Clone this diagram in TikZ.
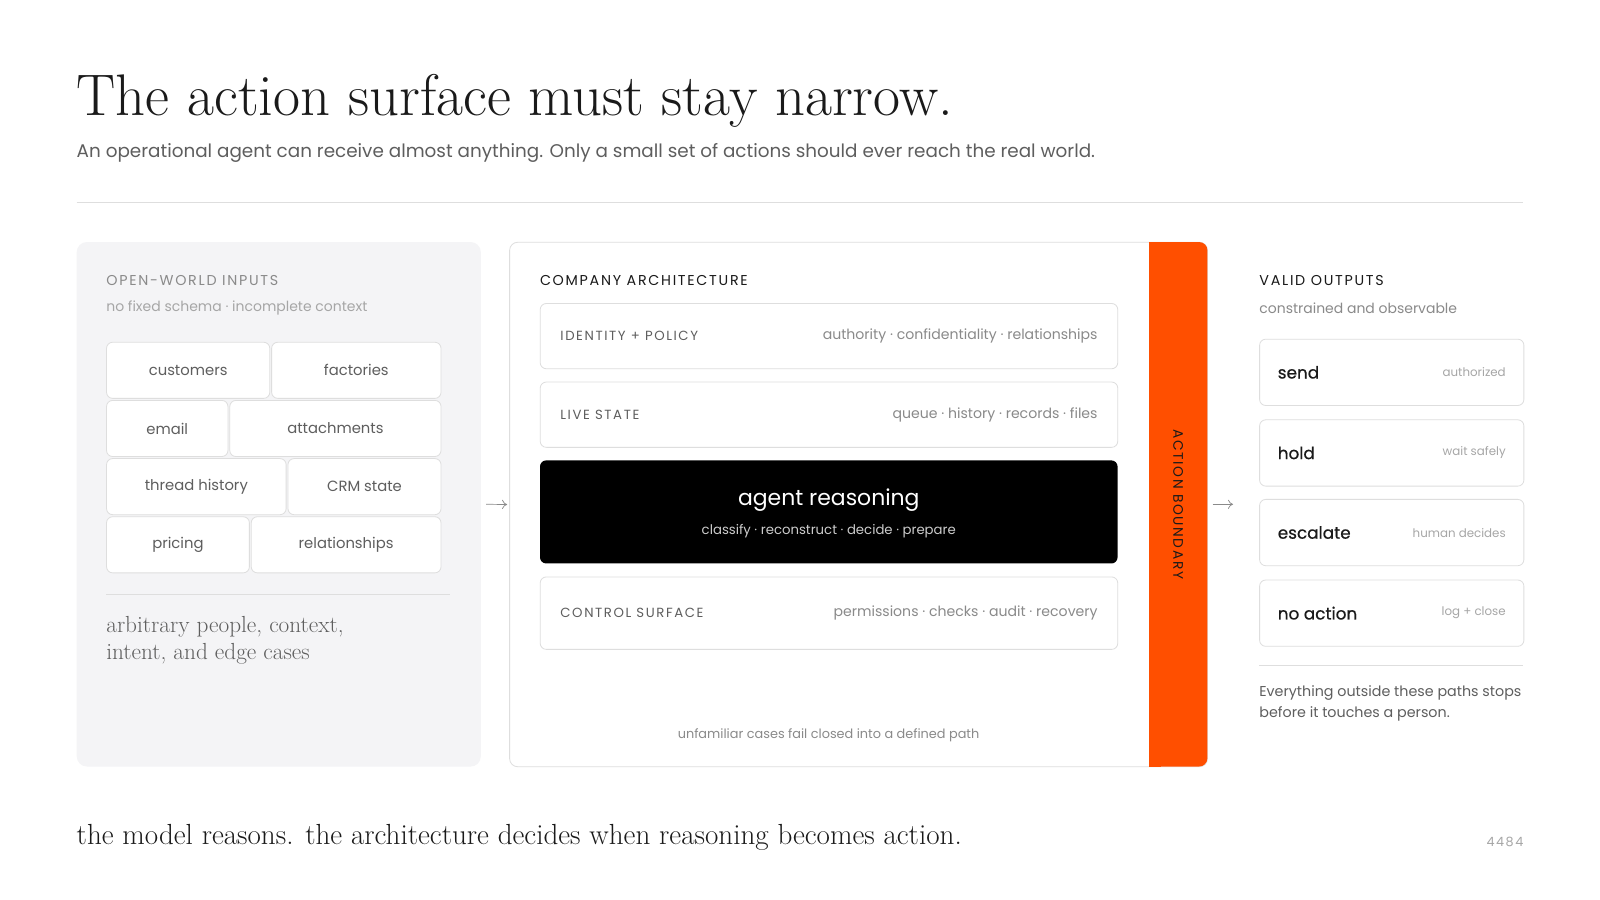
\documentclass[tikz,border=0pt]{standalone}
\usepackage{fontspec}
\newfontfamily\ui{Poppins}
\newfontfamily\uimed[FakeBold=0.6]{Poppins}
\usepackage{tikz}
\usetikzlibrary{positioning,arrows.meta}
\definecolor{ink}{HTML}{1A1A1A}
\definecolor{muted}{HTML}{5E5E5E}
\definecolor{soft}{HTML}{8A8A8A}
\definecolor{faint}{HTML}{A6A6A6}
\definecolor{rule}{HTML}{DEDEDE}
\definecolor{panel}{HTML}{F4F4F6}
\definecolor{bnd}{HTML}{FF4F00}
\newcommand{\UiSize}[2]{\ui\fontsize{#1}{#2}\selectfont}
\newcommand{\Spaced}{\addfontfeature{LetterSpace=12}}

\begin{document}
\begin{tikzpicture}[x=1pt,y=-1pt,>={To[length=5pt,width=9pt]}
        ,every node/.style={inner sep=0pt}
        ,caps/.style = {font=\UiSize{14}{16}\Spaced, anchor=west}
        ,lcaps/.style = {font=\UiSize{13}{15}\Spaced, anchor=west, text=muted}
        ,note/.style = {font=\UiSize{13.7}{16}, text=faint, anchor=west}
        ,chip/.style = {draw=rule, line width=0.8pt, fill=white, rounded corners=6pt, anchor=north west
                        ,minimum height=55pt, font=\UiSize{14.5}{17}, text=muted}
        ,layer/.style = {draw=rule, line width=0.8pt, fill=white, rounded corners=6pt, anchor=north west
                        ,minimum width=566pt, minimum height=64pt}
        ,outbox/.style = {draw=rule, line width=0.8pt, fill=white, rounded corners=6pt, anchor=north west
                        ,minimum width=259pt, minimum height=65pt}
        ,tag/.style = {font=\UiSize{13.8}{16}, text=soft, anchor=east}
        ,arr/.style = {->, draw=soft, line width=0.7pt}
      ]
      \useasboundingbox[fill=white] (0,0) rectangle (1568,882);

      \node[anchor=base west, font=\fontsize{57.5}{62}\selectfont, text=ink] (title) at (75,113) {The action surface must stay narrow.};
      \node[anchor=west, font=\UiSize{18}{21}, text=muted] (sub) at (75,150) {An operational agent can receive almost anything. Only a small set of actions should ever reach the real world.};
      \draw[rule, line width=0.8pt] (75,198) -- (1493,198);

      \node[fill=panel, rounded corners=10pt, anchor=north west, minimum width=396pt, minimum height=514pt] (inp) at (75,237) {};
      \node[caps, text=soft] (inhead) at (104,275) {OPEN-WORLD INPUTS};
      \node[note] (insub) at (104,302) {no fixed schema · incomplete context};

      \node[chip, minimum width=160pt] (cust) at (104,335) {customers};
      \node[chip, minimum width=166pt, right=1pt of cust] (fact) {factories};
      \node[chip, minimum width=119pt] (mail) at (104,392) {email};
      \node[chip, minimum width=207pt, right=1pt of mail] (att) {attachments};
      \node[chip, minimum width=176pt] (thr) at (104,449) {thread history};
      \node[chip, minimum width=150pt, right=1pt of thr] (crm) {CRM state};
      \node[chip, minimum width=140pt] (price) at (104,506) {pricing};
      \node[chip, minimum width=186pt, right=1pt of price] (rel) {relationships};

      \draw[rule, line width=0.8pt] (104,583) -- (441,583);
      \node[anchor=north west, align=left, font=\fontsize{22.8}{26}\selectfont, text=muted] (edge) at (104,604) {arbitrary people, context,\\intent, and edge cases};

      \node[draw=rule, line width=0.8pt, fill=white, rounded corners=8pt, anchor=north west, minimum width=684pt, minimum height=514pt] (arch) at (499,237) {};
      \node[fill=bnd, rounded corners=8pt, anchor=north west, minimum width=57pt, minimum height=514pt] (bound) at (1126,237) {};
      \fill[bnd] (bound.north west) rectangle ([xshift=12pt]bound.south west);
      \node[rotate=-90, font=\UiSize{13.5}{16}\Spaced, text=ink] (bndlbl) at (bound.center) {ACTION BOUNDARY};

      \node[caps, text=ink] (archhead) at (529,275) {COMPANY ARCHITECTURE};

      \node[layer] (idp) at (529,297) {};
      \node[lcaps] at ([xshift=20pt]idp.west) {IDENTITY + POLICY};
      \node[tag] at ([xshift=-20pt]idp.east) {authority · confidentiality · relationships};

      \node[layer] (live) at (529,374) {};
      \node[lcaps] at ([xshift=20pt]live.west) {LIVE STATE};
      \node[tag] at ([xshift=-20pt]live.east) {queue · history · records · files};

      \node[fill=black, rounded corners=6pt, anchor=north west, minimum width=566pt, minimum height=101pt] (agent) at (529,451) {};
      \node[font=\UiSize{21.5}{24}, text=white] (agentlbl) at ([yshift=12pt]agent.center) {agent reasoning};
      \node[font=\UiSize{13}{15}, text=white!80!black] (agentsub) at ([yshift=-19pt]agent.center) {classify · reconstruct · decide · prepare};

      \node[layer, minimum height=71pt] (ctrl) at (529,565) {};
      \node[lcaps] at ([xshift=20pt]ctrl.west) {CONTROL SURFACE};
      \node[tag] at ([xshift=-20pt]ctrl.east) {permissions · checks · audit · recovery};

      \node[font=\UiSize{12.6}{15}, text=soft] (fail) at (812,721) {unfamiliar cases fail closed into a defined path};

      \draw[arr] ([xshift=5pt]inp.east) -- ([xshift=-2pt]arch.west);
      \coordinate (outin) at ([xshift=25pt]bound.east);
      \draw[arr] ([xshift=5pt]bound.east) -- (outin);

      \node[caps, text=ink] (outhead) at (1234,275) {VALID OUTPUTS};
      \node[note, text=soft] (outsub) at (1234,302) {constrained and observable};

      \foreach \y/\nm/\lbl/\why in {332/send/send/authorized, 411/hold/hold/wait safely, 489/esc/escalate/human decides, 568/none/no action/log + close}{
        \node[outbox] (\nm) at (1234,\y) {};
        \node[font=\uimed\fontsize{16.5}{20}\selectfont, text=ink, anchor=west] at ([xshift=18pt]\nm.west) {\lbl};
        \node[font=\UiSize{11.6}{14}, text=faint, anchor=east] at ([xshift=-18pt]\nm.east) {\why};
      }

      \draw[rule, line width=0.8pt] (1234,652) -- (1493,652);
      \node[anchor=north west, align=left, font=\UiSize{14}{20.5}, text=muted] (stops) at (1234,672) {Everything outside these paths stops\\before it touches a person.};

      \node[anchor=base west, font=\fontsize{28.5}{32}\selectfont, text=ink] (moral) at (75,828) {the model reasons. the architecture decides when reasoning becomes action.};
      \node[anchor=east, font=\UiSize{12.5}{15}\Spaced, text=faint] (pg) at (1493,825) {4484};
    \end{tikzpicture}
\end{document}
